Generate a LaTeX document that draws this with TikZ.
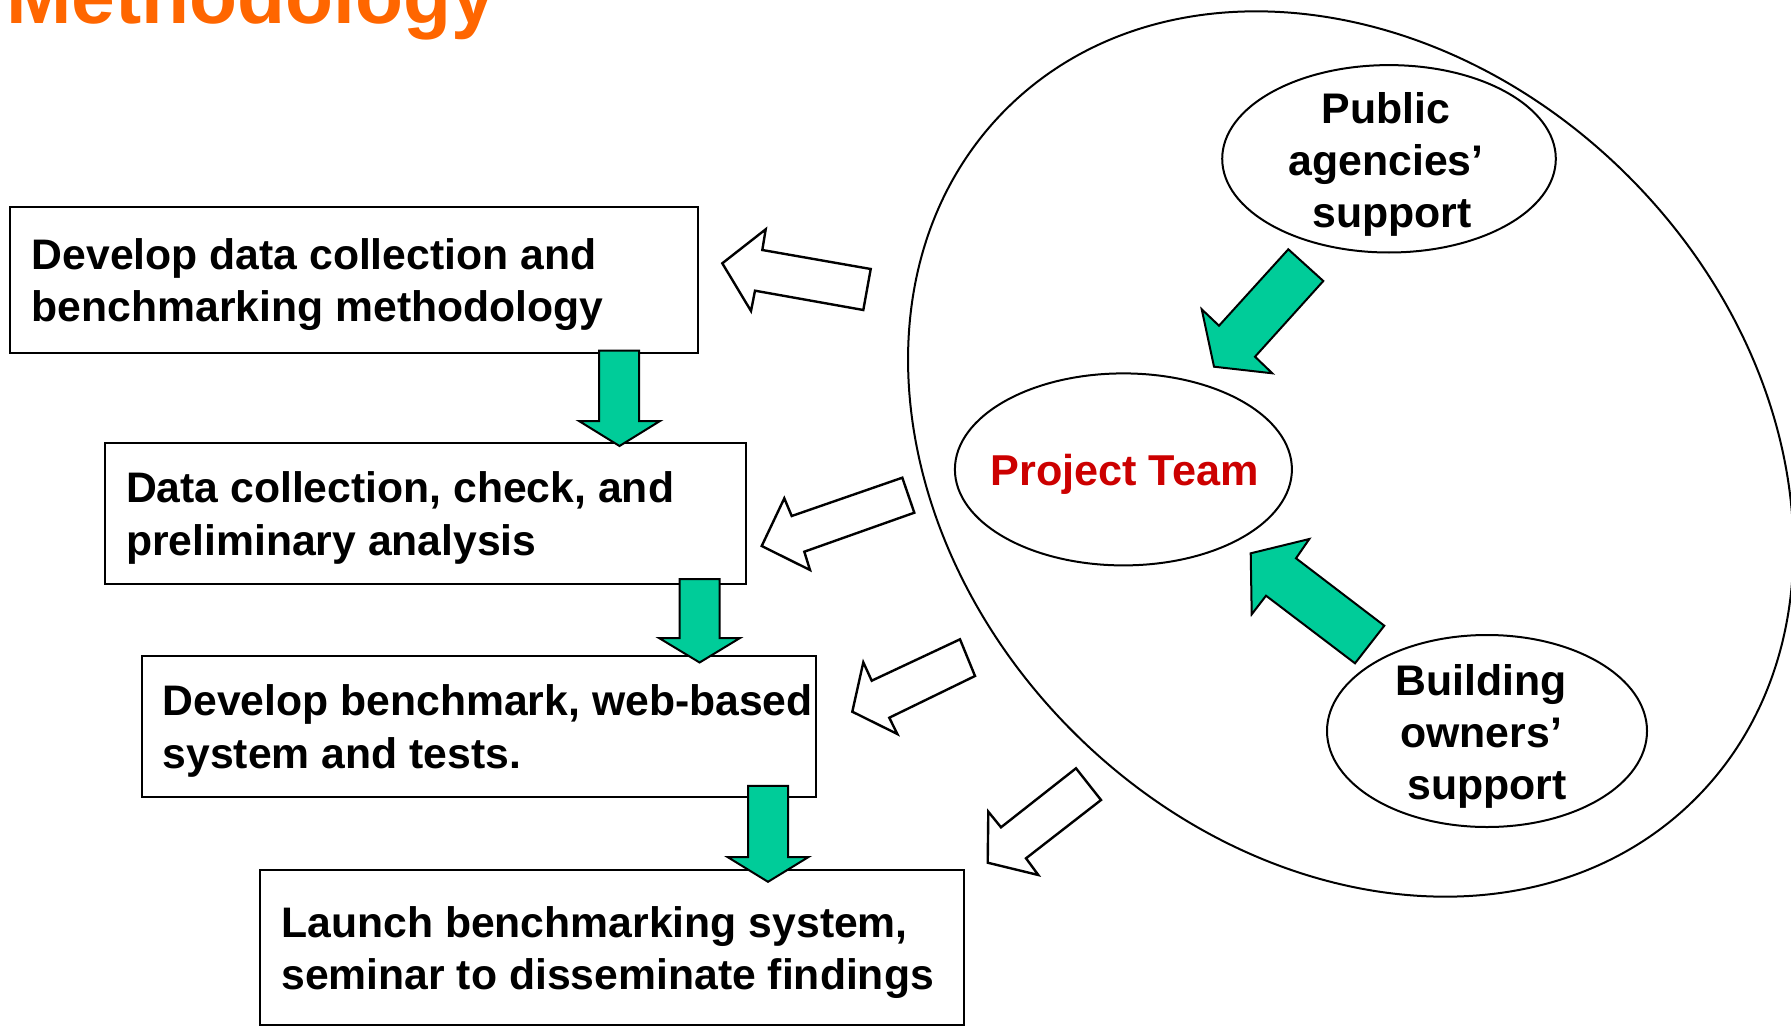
\documentclass[tikz,border=0pt]{standalone}
\usepackage{fontspec}
\setmainfont{Liberation Sans}
\usetikzlibrary{shapes.geometric}
\definecolor{arrowgreen}{RGB}{0,204,153}
\definecolor{titleorange}{RGB}{255,102,0}
\definecolor{teamred}{RGB}{204,0,0}
\begin{document}
\begin{tikzpicture}[x=0.5pt,y=-0.5pt,
  stepbox/.style={draw=black, line width=1pt, rectangle, inner sep=0pt, outer sep=0pt},
  boxtext/.style={font=\bfseries\fontsize{21.35}{26.2}\selectfont, align=left, inner sep=0pt, anchor=west},
  oval/.style={draw=black, line width=1pt, ellipse, inner sep=0pt, outer sep=0pt},
  ovaltext/.style={font=\bfseries\fontsize{21.4}{26}\selectfont, align=center, inner sep=0pt},
  greenarrow/.style={fill=arrowgreen, draw=black, line width=1pt, line join=miter},
  hollowarrow/.style={fill=white, draw=black, line width=1.2pt, line join=miter}]
\useasboundingbox (0,0) rectangle (1791,1027);

% title
\node[font=\bfseries\fontsize{39.3}{47}\selectfont, text=titleorange, anchor=base west, inner sep=0pt] (title) at (6,24) {Methodology};

% big ellipse
\node[oval, minimum width=487.5pt, minimum height=392.7pt, rotate=-45] (world) at (1350.7,454) {};

% small ellipses
\node[oval, minimum width=166.8pt, minimum height=93.7pt] (pub) at (1389,158.8) {};
\node[oval, minimum width=168.5pt, minimum height=96pt] (team) at (1123.4,469.4) {};
\node[oval, minimum width=160pt, minimum height=96pt] (bld) at (1487,731) {};

\node[ovaltext] (pubtext) at (1386,164.5) {Public\\agencies’\\\hspace*{5.9pt}support};
\node[ovaltext, text=teamred, font=\bfseries\fontsize{21.6}{26}\selectfont] (teamtext) at (1124.5,474.5) {Project Team};
\node[ovaltext] (bldtext) at (1481,736.5) {Building\\owners’\\\hspace*{5.9pt}support};

% boxes
\node[stepbox, minimum width=343.8pt, minimum height=73.15pt] (b1) at (354.1,279.85) {};
\node[stepbox, minimum width=320.45pt, minimum height=70.35pt] (b2) at (425.45,513.35) {};
\node[stepbox, minimum width=336.95pt, minimum height=70.85pt] (b3) at (478.55,726.45) {};
\node[stepbox, minimum width=351.8pt, minimum height=77.3pt] (b4) at (612.2,947.7) {};

\node[boxtext] (t1) at ([xshift=10.5pt,yshift=-2.3pt]b1.west) {Develop data collection and\\benchmarking methodology};
\node[boxtext] (t2) at ([xshift=10.3pt,yshift=-2.3pt]b2.west) {Data collection, check, and\\preliminary analysis};
\node[boxtext] (t3) at ([xshift=10.3pt,yshift=-2.3pt]b3.west) {Develop benchmark, web-based\\system and tests.};
\node[boxtext] (t4) at ([xshift=10.3pt,yshift=-2.5pt]b4.west) {Launch benchmarking system,\\seminar to disseminate findings};

% green down arrows between boxes
\draw[greenarrow] (599,350.5) -- (639,350.5) -- (639,421) -- (660,421) -- (619.5,446) -- (579,421) -- (599,421) -- cycle;
\draw[greenarrow] (679.6,579) -- (719.6,579) -- (719.6,638) -- (740,638) -- (699.6,662.5) -- (659,638) -- (679.6,638) -- cycle;
\draw[greenarrow] (748,785.8) -- (788,785.8) -- (788,857) -- (808.5,857) -- (768,881.8) -- (727.5,857) -- (748,857) -- cycle;

% green diagonal arrows into the team
\draw[greenarrow] (1288.3,249.3) -- (1323.3,281) -- (1255,356.7) -- (1272.3,373.3) -- (1214,366.7) -- (1201.7,309.3) -- (1219,325.7) -- cycle;
\draw[greenarrow] (1250.7,553.3) -- (1309.3,539) -- (1296,558.3) -- (1384.3,625.7) -- (1355,663.3) -- (1266,595.7) -- (1251.7,614.3) -- cycle;

% hollow arrows from the team circle to the steps
\draw[hollowarrow] (722.3,263.3) -- (765.7,229.3) -- (762.3,250) -- (870.7,269) -- (863.3,310) -- (755,290.7) -- (751,311) -- cycle;
\draw[hollowarrow] (761.7,546) -- (784.3,498.3) -- (791.7,516) -- (902.3,477.7) -- (914.3,512.7) -- (804.3,551.7) -- (810,570) -- cycle;
\draw[hollowarrow] (852.3,711.7) -- (863.3,662.3) -- (871.7,680.7) -- (960,639.3) -- (975,676) -- (889.3,717.7) -- (897.3,734) -- cycle;
\draw[hollowarrow] (987.7,862.7) -- (988.3,811.7) -- (1001,827.3) -- (1076,768.3) -- (1101,800) -- (1026,858.3) -- (1038.3,875) -- cycle;
\end{tikzpicture}
\end{document}
